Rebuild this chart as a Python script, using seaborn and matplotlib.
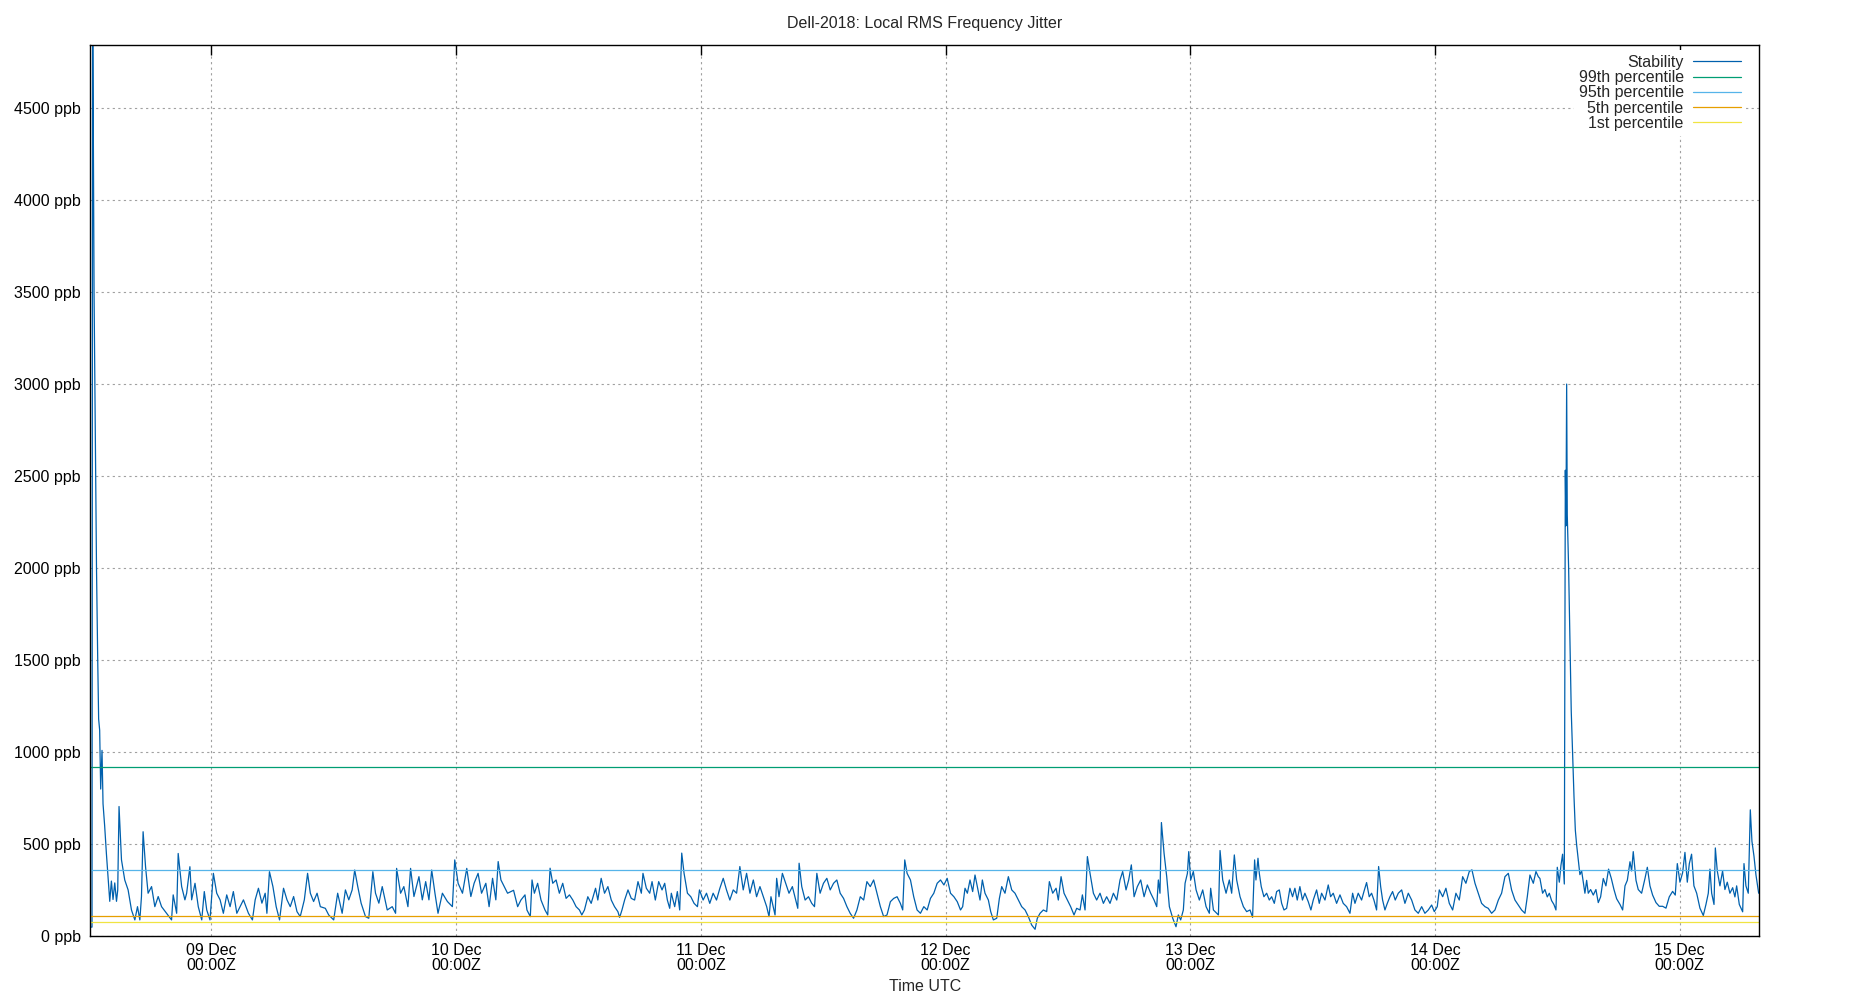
import pandas as pd
import matplotlib
matplotlib.use("Agg")
import matplotlib.pyplot as plt
import seaborn as sns

# hours since 08 Dec 00:00Z
hours = [
    12.15, 12.3, 12.36, 12.5, 12.74, 12.86, 12.95, 13.05, 13.15, 13.28, 13.38, 13.54, 13.71, 13.87,
    14.04, 14.2, 14.36, 14.53, 14.7, 14.82, 14.95, 15.19, 15.51, 15.84, 16.17, 16.5, 16.76, 16.99,
    17.15, 17.31, 17.55, 17.8, 18.14, 18.46, 18.79, 19.12, 19.61, 20.1, 20.26, 20.6, 20.75, 21.09,
    21.41, 21.58, 21.9, 22.07, 22.4, 22.72, 23.06, 23.31, 23.55, 23.87, 24.2, 24.53, 24.86, 25.18,
    25.51, 25.84, 26.16, 26.5, 26.82, 27.15, 27.64, 28.03, 28.3, 28.62, 28.96, 29.28, 29.45, 29.7,
    30.04, 30.36, 30.69, 31.08, 31.42, 31.74, 32.07, 32.4, 32.72, 33.12, 33.44, 33.71, 34.03, 34.37,
    34.69, 35.18, 35.51, 36.0, 36.39, 36.83, 37.15, 37.48, 37.81, 38.06, 38.36, 38.69, 39.12, 39.44,
    39.84, 40.1, 40.43, 40.76, 41.25, 41.74, 42.07, 42.17, 42.56, 42.88, 43.28, 43.54, 43.87, 44.36,
    44.69, 45.02, 45.34, 45.61, 45.93, 46.23, 46.66, 47.15, 47.64, 47.87, 48.2, 48.63, 49.05, 49.45,
    49.77, 50.16, 50.5, 50.92, 51.24, 51.58, 51.9, 52.13, 52.4,
    52.72, 53.05, 53.64, 54.04, 54.36, 54.76, 54.95, 55.28, 55.45, 55.68, 56.0, 56.33, 56.72, 56.99,
    57.22, 57.48, 57.81, 58.13, 58.46, 58.79, 59.12, 59.45, 59.77, 60.1, 60.33, 60.59, 60.92, 61.25,
    61.68, 61.9, 62.23, 62.56, 62.89, 63.22, 63.54, 63.87, 64.04, 64.27, 64.53, 64.86, 65.18, 65.51,
    65.84, 66.17, 66.33, 66.66, 66.99, 67.22, 67.54, 67.87, 68.2, 68.46, 68.72, 68.95,
    69.11, 69.44, 69.7, 69.93, 70.13, 70.36, 70.69, 71.02, 71.34, 71.67, 71.87, 72.23, 72.56, 72.88,
    73.21, 73.54, 73.87, 74.2, 74.52, 74.85, 75.18, 75.51, 75.83, 76.16, 76.49, 76.82, 77.15, 77.47,
    77.8, 78.13, 78.46, 78.69, 78.88, 79.28, 79.44, 79.67, 80.0, 80.33, 80.65, 80.98, 81.31, 81.51,
    81.64, 81.9, 82.23, 82.56, 82.88, 83.15, 83.38, 83.7, 84.03, 84.36, 84.69, 85.02, 85.34, 85.67,
    86.0, 86.33, 86.65, 86.98, 87.31, 87.64, 87.97, 88.29, 88.62, 88.95, 89.28, 89.61, 89.93, 90.26,
    90.59, 90.92, 91.25, 91.57, 91.8, 92.0, 92.23, 92.56, 92.88, 93.21, 93.54, 93.87, 94.2, 94.52,
    94.85, 95.18, 95.51, 95.84, 96.16, 96.49, 96.82, 97.15, 97.47,
    97.68, 97.91, 98.14, 98.4, 98.66, 98.89, 99.12, 99.38, 99.61, 99.87, 100.2, 100.43, 100.69,
    101.02, 101.28, 101.51, 101.83, 102.16, 102.49, 102.81, 103.14, 103.47, 103.8, 104.12, 104.45,
    104.78, 105.0, 105.27, 105.59, 105.92, 106.18, 106.51, 106.84, 107.06, 107.33, 107.62, 107.95,
    108.27, 108.6, 108.86, 109.19, 109.42, 109.68, 109.91, 110.17, 110.5, 110.82, 111.15, 111.48,
    111.8, 112.13, 112.46, 112.79, 113.11, 113.37, 113.7, 113.96, 114.22, 114.49, 114.81, 115.14,
    115.47, 115.79, 116.12, 116.45, 116.71, 116.87, 117.03, 117.17, 117.43, 117.69, 117.95, 118.28,
    118.6, 118.83, 119.06, 119.32, 119.49, 119.72, 119.85, 120.04, 120.3, 120.57, 120.89, 121.22,
    121.55, 121.87, 122.0, 122.27, 122.59, 122.76, 122.92, 123.18, 123.51, 123.83, 124.06, 124.32,
    124.55, 124.88, 125.21, 125.53, 125.86,
    126.11, 126.31, 126.44, 126.64, 126.77, 126.96, 127.22, 127.49, 127.75, 127.98, 128.24, 128.47,
    128.73, 128.96, 129.19, 129.45, 129.77, 130.03, 130.26, 130.49, 130.75, 131.0, 131.24, 131.57,
    131.83, 132.06, 132.39, 132.65, 132.88, 133.21, 133.53, 133.76, 134.02, 134.35, 134.68, 135.0,
    135.33, 135.66, 135.92, 136.15, 136.47, 136.8, 137.03, 137.29, 137.55, 137.78, 138.01, 138.27,
    138.47, 138.67, 138.86, 139.09, 139.32, 139.58, 139.84, 140.1, 140.4, 140.73, 141.05, 141.38,
    141.71, 142.03, 142.36, 142.69, 143.01, 143.34, 143.67, 143.93, 144.22, 144.42, 144.75, 145.07,
    145.4, 145.73, 146.05, 146.38, 146.71, 147.03, 147.36, 147.62, 147.92, 148.24, 148.57, 148.9,
    149.22, 149.55, 149.88, 150.21, 150.53, 150.86, 151.19, 151.51, 151.84, 152.17, 152.49, 152.82,
    153.05, 153.31, 153.64, 153.9, 154.13,
    154.29, 154.55, 154.78, 155.01, 155.21, 155.43, 155.66, 155.86, 155.99, 156.19, 156.35, 156.51,
    156.68, 156.78, 156.84, 156.91, 156.97, 157.1, 157.23, 157.36, 157.49, 157.63, 157.76, 157.89,
    158.05, 158.21, 158.38, 158.54, 158.7, 158.87, 159.03, 159.26, 159.52, 159.78, 160.01, 160.24,
    160.5, 160.76, 161.02, 161.29, 161.55, 161.81, 162.14, 162.4, 162.63, 162.86, 163.12, 163.28,
    163.44, 163.71, 163.93, 164.26, 164.59, 164.82, 165.08, 165.34, 165.67, 165.99, 166.32, 166.65,
    166.97, 167.3, 167.56, 167.76, 168.02, 168.28, 168.51, 168.74, 168.94, 169.16, 169.39, 169.66,
    169.98, 170.31, 170.57, 170.8, 170.96, 171.13, 171.36, 171.49, 171.68, 171.94, 172.2, 172.43,
    172.66, 172.92, 173.19, 173.41, 173.58, 173.84, 174.17, 174.3, 174.49, 174.72, 174.92, 175.08,
    175.28, 175.47, 175.74,
]

# RMS frequency jitter in ppb
stability = [
    50, 50, 5200, 3500, 2000, 1500, 1180, 1120, 800, 1010, 720, 600, 450, 320,
    190, 300, 200, 290, 190, 250, 705, 415, 306, 252, 143, 89, 161, 89,
    216, 568, 378, 234, 270, 161, 216, 161, 125, 89, 225, 125, 450, 270,
    198, 234, 378, 198, 288, 161, 89, 243, 143, 89, 342, 234, 198, 125,
    225, 161, 243, 125, 161, 198, 125, 89, 198, 261, 180, 234, 125, 351,
    270, 161, 89, 261, 198, 161, 216, 134, 107, 198, 342, 234, 189, 234,
    161, 152, 116, 89, 234, 125, 252, 198, 252, 360, 270, 180, 107, 98,
    351, 234, 180, 270, 143, 161, 125, 369, 234, 270, 161, 369, 216, 324,
    198, 297, 198, 360, 234, 125, 234, 189, 161, 415, 288, 234, 369, 216,
    288, 342, 234, 288, 161, 315, 198, 406, 306,
    270, 234, 250, 161, 197, 225, 143, 107, 306, 234, 288, 197, 143, 116,
    370, 288, 306, 234, 288, 206, 225, 197, 161, 143, 116, 143, 215, 179,
    261, 197, 315, 234, 270, 197, 161, 134, 103, 143, 197, 252, 206, 197,
    297, 234, 342, 261, 234, 297, 197, 297, 252, 288, 197, 152,
    234, 161, 243, 143, 452, 342, 234, 215, 179, 161, 252, 197, 234, 179,
    234, 197, 261, 315, 252, 197, 252, 234, 379, 252, 342, 234, 306, 215,
    270, 215, 161, 107, 215, 116, 315, 215, 342, 288, 234, 270, 197, 152,
    397, 270, 197, 215, 179, 161, 342, 234, 288, 315, 252, 288, 306, 234,
    206, 161, 125, 98, 143, 215, 197, 297, 270, 306, 234, 161, 107, 116,
    188, 206, 215, 179, 143, 415, 342, 306, 215, 143, 125, 161, 143, 206,
    234, 288, 306, 279, 315, 234, 215, 188, 143,
    161, 261, 234, 306, 243, 333, 270, 197, 306, 234, 197, 134, 89,
    98, 206, 270, 234, 324, 252, 234, 197, 161, 143, 107, 61,
    38, 98, 125, 143, 134, 297, 234, 261, 197, 324, 234, 197,
    161, 116, 152, 143, 225, 143, 433, 342, 234, 197, 234, 179,
    215, 179, 234, 197, 306, 352, 252, 306, 388, 215, 270, 306,
    215, 279, 234, 197, 161, 306, 234, 618, 451, 324, 161, 98,
    52, 116, 89, 143, 288, 342, 460, 306, 352, 252, 197, 252,
    161, 125, 261, 143, 125, 116, 466, 306, 234, 306, 234, 442,
    306, 215, 161, 134, 143,
    103, 415, 306, 424, 342, 270, 215, 234, 197, 215, 179, 243,
    252, 179, 143, 152, 261, 215, 261, 197, 270, 197, 234, 188,
    143, 197, 252, 179, 234, 197, 279, 215, 234, 179, 225, 179,
    161, 125, 234, 179, 234, 197, 243, 292, 215, 234, 197, 143,
    379, 270, 197, 143, 179, 215, 243, 197, 234, 252, 179, 234,
    197, 143, 125, 161, 125, 143, 170, 134, 161, 252, 215, 261,
    179, 143, 234, 197, 324, 288, 352, 361, 288, 234, 179, 161,
    152, 125, 143, 197, 234, 324, 342, 252, 197, 170, 143, 125,
    215, 333, 288, 352, 324,
    314, 234, 254, 214, 234, 194, 173, 143, 375, 294, 385, 446,
    284, 2532, 2230, 3000, 2290, 2008, 1625, 1222, 1000, 758, 577, 496,
    415, 335, 355, 294, 234, 304, 234, 254, 224, 254, 183, 214,
    314, 274, 365, 314, 254, 204, 173, 143, 274, 304, 405, 355,
    460, 304, 254, 234, 314, 375, 274, 224, 183, 163, 163, 153,
    214, 244, 224, 395, 294, 345, 456, 294, 395, 446, 274, 234,
    153, 113, 173, 234, 365, 234, 173, 480, 355, 274, 355, 254,
    294, 234, 264, 214, 274, 173, 133, 395, 274, 234, 687, 516,
    435, 335, 234,
]

pct_labels = ["99th percentile", "95th percentile", "5th percentile", "1st percentile"]
pct_values = [918, 359, 109, 76]
pct_colors = ["#009e73", "#56b4e9", "#e69f00", "#f0e442"]

day_ticks = ["2018-12-09", "2018-12-10", "2018-12-11", "2018-12-12",
             "2018-12-13", "2018-12-14", "2018-12-15"]
day_labels = ["09 Dec\n00:00Z", "10 Dec\n00:00Z", "11 Dec\n00:00Z", "12 Dec\n00:00Z",
              "13 Dec\n00:00Z", "14 Dec\n00:00Z", "15 Dec\n00:00Z"]
ppb_ticks = [0, 500, 1000, 1500, 2000, 2500, 3000, 3500, 4000, 4500]

start = pd.Timestamp("2018-12-08")
df = pd.DataFrame({
    "time": start + pd.to_timedelta(hours, unit="h"),
    "ppb": stability,
})

sns.set_theme(style="white")
plt.rcParams["font.family"] = ["Liberation Sans", "DejaVu Sans"]
plt.rcParams["font.size"] = 11.5

fig = plt.figure(figsize=(18.5, 10), dpi=100)
ax = fig.add_axes([0.0488, 0.0637, 0.9020, 0.8913])

sns.lineplot(data=df, x="time", y="ppb", ax=ax, color="#0060ad", linewidth=0.9,
             label="Stability", estimator=None, sort=False)
for lab, val, col in zip(pct_labels, pct_values, pct_colors):
    ax.axhline(val, color=col, linewidth=0.9, label=lab)

ax.set_xlim(start + pd.Timedelta(hours=12.13), start + pd.Timedelta(hours=175.77))
ax.set_ylim(0, 4842)

ax.set_xticks(pd.to_datetime(day_ticks), day_labels)
for t in ax.get_xticklabels():
    t.set_linespacing(1.0)
ax.set_yticks(ppb_ticks, [f"{v} ppb" for v in ppb_ticks])

ax.grid(True, color="#a0a0a0", linestyle=(0, (2, 3)), linewidth=0.8)
ax.set_axisbelow(True)
ax.tick_params(direction="in", length=7, width=1, top=True, right=False,
               colors="black", labelsize=11.5)
ax.tick_params(axis="y", pad=7)
ax.tick_params(axis="x", pad=5)
for s in ax.spines.values():
    s.set_color("black")
    s.set_linewidth(1.0)

ax.set_xlabel("Time UTC", fontsize=11.5, labelpad=4)
ax.set_ylabel("")
ax.set_title("Dell-2018: Local RMS Frequency Jitter", fontsize=11.5, pad=12)

leg = ax.legend(loc="upper right", bbox_to_anchor=(1746 / 1850, 1 - 50 / 1000),
                bbox_transform=fig.transFigure, markerfirst=False, frameon=True,
                fontsize=11.5, handlelength=3.0, handletextpad=0.6,
                labelspacing=0.02, borderpad=0.3, borderaxespad=0)
leg.get_frame().set_facecolor("white")
leg.get_frame().set_edgecolor("none")
leg.get_frame().set_alpha(1)

fig.savefig("out.png", dpi=100)
